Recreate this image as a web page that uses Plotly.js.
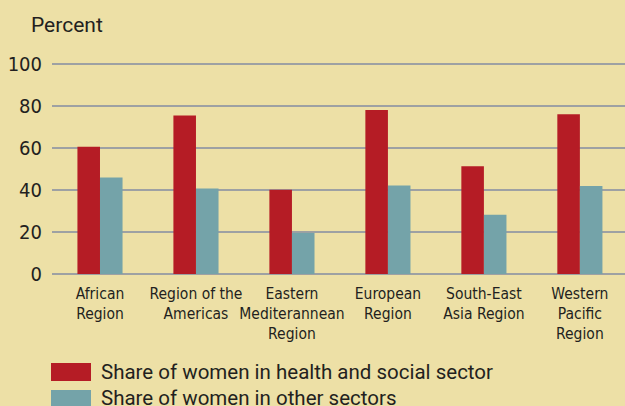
<!DOCTYPE html>
<html>
<head>
<meta charset="utf-8">
<script src="https://cdn.plot.ly/plotly-3.0.1.min.js"></script>
<style>html,body{margin:0;padding:0;background:#ede0a6;}#chart{width:625px;height:406px;}</style>
</head>
<body>
<div id="chart"></div>
<script>
const categories = [
  "African<br>Region",
  "Region of the<br>Americas",
  "Eastern<br>Mediterannean<br>Region",
  "European<br>Region",
  "South-East<br>Asia Region",
  "Western<br>Pacific<br>Region"
];
const healthSocial = [60.7, 75.5, 40.1, 78.2, 51.4, 76.1];
const otherSectors = [46.0, 40.8, 19.6, 42.2, 28.2, 41.9];
const seriesNames = ["Share of women in health and social sector", "Share of women in other sectors"];
const yTicks = [0, 20, 40, 60, 80, 100];

const RED = "#b51c25", TEAL = "#74a3a9", BG = "#ede0a6", GRID = "#9ea1a3", TXT = "#231f20";
const NARROW = "'Liberation Sans Narrow', 'DejaVu Sans Condensed', sans-serif";

const traces = [
  {type: "bar", x: categories, y: healthSocial, name: seriesNames[0], marker: {color: RED, line: {width: 0}}, hoverinfo: "skip"},
  {type: "bar", x: categories, y: otherSectors, name: seriesNames[1], marker: {color: TEAL, line: {width: 0}}, hoverinfo: "skip"}
];

const PL = 52, PT = 60, PW = 573, PH = 214;
const px = v => (v - PL) / PW;
const py = v => (PT + PH - v) / PH;

const layout = {
  width: 625, height: 406,
  margin: {l: PL, r: 0, t: PT, b: 406 - PT - PH, pad: 0},
  paper_bgcolor: BG, plot_bgcolor: BG,
  barmode: "group", bargap: 0.53, bargroupgap: 0,
  showlegend: false,
  font: {family: "Roboto, 'Liberation Sans', sans-serif", color: TXT},
  xaxis: {
    type: "category", range: [-0.5, 5.47], showgrid: false, zeroline: false, showline: false,
    ticks: "", tickangle: 0, automargin: false,
    tickfont: {family: NARROW, size: 15.5, color: TXT},
    ticklabelstandoff: 8, fixedrange: true
  },
  yaxis: {
    range: [0, 102], tickvals: yTicks, ticktext: yTicks.map(String),
    showgrid: true, gridcolor: GRID, gridwidth: 1.5,
    zeroline: true, zerolinecolor: GRID, zerolinewidth: 1.5, showline: false,
    ticks: "", automargin: false,
    tickfont: {family: NARROW, size: 20, color: TXT},
    ticklabelstandoff: 9, fixedrange: true
  },
  shapes: [
    {type: "rect", xref: "paper", yref: "paper", x0: px(51), x1: px(91), y0: py(381), y1: py(363), fillcolor: RED, line: {width: 0}},
    {type: "rect", xref: "paper", yref: "paper", x0: px(51), x1: px(91), y0: py(408), y1: py(390), fillcolor: TEAL, line: {width: 0}}
  ],
  annotations: [
    {text: "Percent", xref: "paper", yref: "paper", x: px(29), y: py(25), xanchor: "left", yanchor: "middle", showarrow: false, font: {size: 21, color: TXT}},
    {text: seriesNames[0], xref: "paper", yref: "paper", x: px(99), y: py(372), xanchor: "left", yanchor: "middle", showarrow: false, font: {size: 20.5, color: TXT}},
    {text: seriesNames[1], xref: "paper", yref: "paper", x: px(99), y: py(398), xanchor: "left", yanchor: "middle", showarrow: false, font: {size: 20.5, color: TXT}}
  ]
};

Plotly.newPlot("chart", traces, layout, {displayModeBar: false, staticPlot: true});
</script>
</body>
</html>
